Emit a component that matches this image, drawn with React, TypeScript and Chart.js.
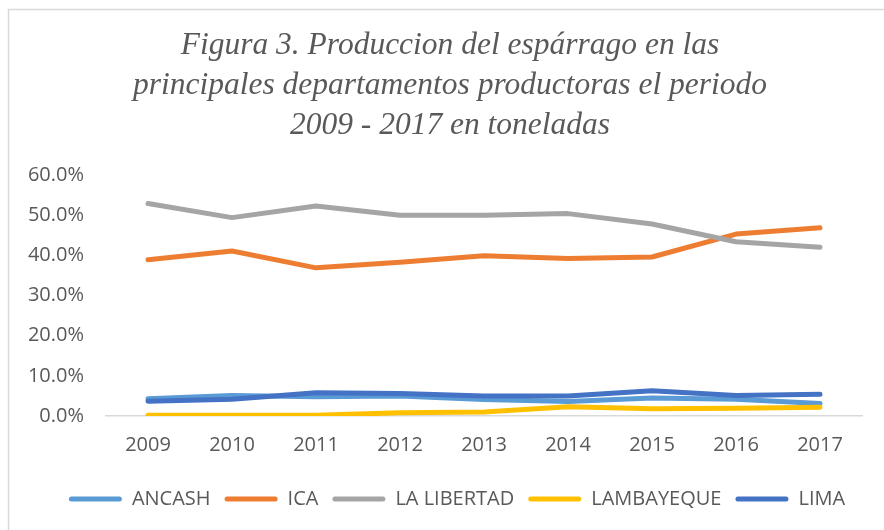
import React, { useEffect, useRef } from "react";
import { Chart, registerables } from "chart.js";

Chart.register(...registerables);

const years = ["2009", "2010", "2011", "2012", "2013", "2014", "2015", "2016", "2017"];
const ancash = [4.3, 5.1, 4.8, 5.0, 4.1, 3.6, 4.5, 4.2, 3.1];
const ica = [38.9, 41.1, 36.9, 38.3, 39.9, 39.2, 39.6, 45.3, 46.9];
const laLibertad = [52.9, 49.4, 52.3, 50.0, 50.0, 50.4, 47.8, 43.4, 42.0];
const lambayeque = [0.2, 0.2, 0.2, 0.8, 1.0, 2.3, 1.8, 1.9, 2.2];
const lima = [3.7, 4.2, 5.8, 5.6, 5.0, 5.0, 6.3, 5.1, 5.4];

const seriesNames = ["ANCASH", "ICA", "LA LIBERTAD", "LAMBAYEQUE", "LIMA"];
const seriesValues = [ancash, ica, laLibertad, lambayeque, lima];
const seriesColors = ["#5B9BD5", "#ED7D31", "#A5A5A5", "#FFC000", "#4472C4"];

const titleLines = [
  "Figura 3. Produccion del espárrago en las",
  "principales departamentos productoras el periodo",
  "2009 - 2017 en toneladas",
];

const framePlugin = {
  id: "frame",
  afterLayout(chart: any) {
    if (chart.legend) {
      chart.legend.left += 22;
      chart.legend.right += 22;
    }
    if (chart.titleBlock) {
      chart.titleBlock.left += 15;
      chart.titleBlock.right += 15;
    }
  },
  beforeDraw(chart: any) {
    const ctx = chart.ctx;
    ctx.save();
    ctx.fillStyle = "#ffffff";
    ctx.fillRect(0, 0, chart.width, chart.height);
    ctx.strokeStyle = "#D9D9D9";
    ctx.lineWidth = 1.5;
    ctx.strokeRect(8.5, 9.5, chart.width + 20, chart.height + 20);
    ctx.restore();
  },
};

export default function App() {
  const ref = useRef<HTMLCanvasElement | null>(null);
  useEffect(() => {
    document.body.style.margin = "0";
    const canvas = ref.current!;
    const tickFont = { family: "'Open Sans'", size: 20 };
    const chart = new Chart(canvas, {
      type: "line",
      data: {
        labels: years,
        datasets: seriesNames.map((name, i) => ({
          label: name,
          data: seriesValues[i],
          borderColor: seriesColors[i],
          backgroundColor: seriesColors[i],
          borderWidth: 5,
          pointRadius: 0,
          tension: 0,
          borderCapStyle: "round",
          borderJoinStyle: "round",
          order: seriesNames.length - i,
        })),
      },
      options: {
        responsive: false,
        animation: false,
        layout: { padding: { left: 8, right: 22, top: 0, bottom: 11 } },
        plugins: {
          title: {
            display: true,
            text: titleLines,
            color: "#595959",
            font: { family: "'Liberation Serif'", style: "italic", size: 31.5, weight: "normal", lineHeight: 1.26 },
            padding: { top: 26, bottom: 30 },
          },
          legend: {
            position: "bottom",
            labels: {
              sort: (a: any, b: any) => a.datasetIndex - b.datasetIndex,
              boxWidth: 53,
              boxHeight: 5,
              useBorderRadius: true,
              borderRadius: 2.5,
              color: "#595959",
              font: { family: "'Open Sans'", size: 20 },
              padding: 14,
              generateLabels: (c: any) =>
                c.data.datasets.map((d: any, i: number) => ({
                  text: d.label,
                  fillStyle: d.borderColor,
                  strokeStyle: d.borderColor,
                  lineWidth: 0,
                  fontColor: "#595959",
                  hidden: false,
                  datasetIndex: i,
                  borderRadius: 2.5,
                })),
            },
          },
          tooltip: { enabled: false },
        },
        scales: {
          x: {
            offset: true,
            afterFit: (s: any) => {
              s.height = 59;
            },
            grid: { display: false, drawTicks: false },
            border: { display: true, color: "#D9D9D9", width: 1.5 },
            ticks: { color: "#595959", font: tickFont, padding: 17 },
          },
          y: {
            min: 0,
            max: 60,
            afterFit: (s: any) => {
              s.width = 98;
            },
            grid: { display: false, drawTicks: false },
            border: { display: false },
            ticks: {
              stepSize: 10,
              color: "#595959",
              font: tickFont,
              padding: 22,
              callback: (v: any) => Number(v).toFixed(1) + "%",
            },
          },
        },
      },
      plugins: [framePlugin],
    });
    return () => chart.destroy();
  }, []);
  return <canvas ref={ref} width={884} height={530} style={{ display: "block" }} />;
}
